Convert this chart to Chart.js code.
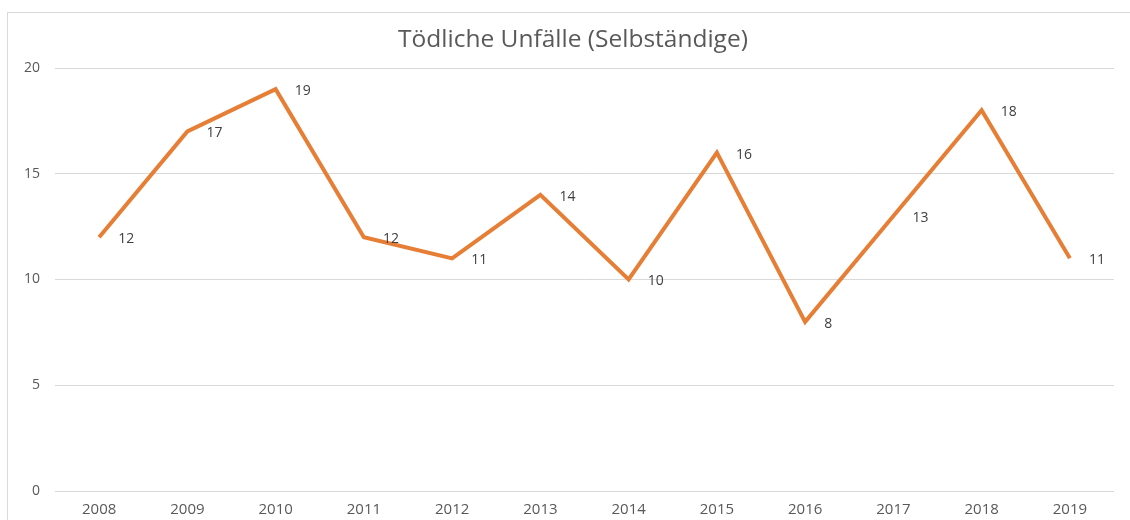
<!DOCTYPE html>
<html>
<head>
<meta charset="utf-8">
<script src="https://cdn.jsdelivr.net/npm/chart.js@4/dist/chart.umd.min.js"></script>
<style>
	html, body { margin: 0; padding: 0; background: #fff; }
	#wrap { width: 1130px; height: 520px; }
</style>
</head>
<body>
<div id="wrap"><canvas id="unfallChart" width="1130" height="520"></canvas></div>
<script>
// data
var years = ["2008", "2009", "2010", "2011", "2012", "2013", "2014", "2015", "2016", "2017", "2018", "2019"];
var deaths = [12, 17, 19, 12, 11, 14, 10, 16, 8, 13, 18, 11];
var yTicks = [0, 5, 10, 15, 20];
var chartTitle = "Tödliche Unfälle (Selbständige)";

var fontName = "'Open Sans', 'DejaVu Sans', sans-serif";
var textColor = "#595959";

//draws the thin frame round the chart and the title, centred on the frame like in the office chart
var framePlugin = {
	id: "frame",
	beforeDraw: function (chart) {
		var ctx = chart.ctx;
		ctx.save();
		ctx.strokeStyle = "#d9d9d9";
		ctx.lineWidth = 1;
		ctx.strokeRect(7.5, 12.5, 1200, 600);
		ctx.font = "24.5px " + fontName;
		ctx.fillStyle = textColor;
		ctx.textAlign = "center";
		ctx.textBaseline = "middle";
		ctx.fillText(chartTitle, 573, 40);
		ctx.restore();
	}
};

//writes the value next to each point
var valueLabels = {
	id: "valueLabels",
	afterDatasetsDraw: function (chart) {
		var ctx = chart.ctx;
		var meta = chart.getDatasetMeta(0);
		ctx.save();
		ctx.font = "14px " + fontName;
		ctx.fillStyle = "#404040";
		ctx.textAlign = "left";
		ctx.textBaseline = "middle";
		meta.data.forEach(function (pt, i) {
			ctx.fillText(String(deaths[i]), pt.x + 19, pt.y + 2);
		});
		ctx.restore();
	}
};

var ctx = document.getElementById("unfallChart");
var lineChart = new Chart(ctx, {
	type: "line",
	data: {
		labels: years,
		datasets: [{
			label: "Tödliche Unfälle",
			data: deaths,
			borderColor: "#E67E35",
			borderWidth: 4,
			pointRadius: 0,
			tension: 0,
			fill: false
		}]
	},
	options: {
		responsive: false,
		animation: false,
		layout: { padding: { left: 10, right: 16, top: 68, bottom: 0 } },
		plugins: {
			legend: { display: false },
			tooltip: { enabled: false },
			title: { display: false }
		},
		scales: {
			x: {
				offset: true,
				grid: { display: false, drawTicks: false },
				border: { display: false },
				afterFit: function (axis) { axis.height = 29; },
				ticks: {
					color: textColor,
					font: { family: fontName, size: 15 },
					padding: 10,
					maxRotation: 0
				}
			},
			y: {
				min: 0,
				max: 20,
				afterBuildTicks: function (axis) {
					axis.ticks = yTicks.map(function (v) { return { value: v }; });
				},
				afterFit: function (axis) { axis.width = 45; },
				grid: { color: "#d9d9d9", drawTicks: false },
				border: { display: false },
				ticks: {
					color: textColor,
					font: { family: fontName, size: 14 },
					padding: 15
				}
			}
		}
	},
	plugins: [framePlugin, valueLabels]
});
</script>
</body>
</html>
